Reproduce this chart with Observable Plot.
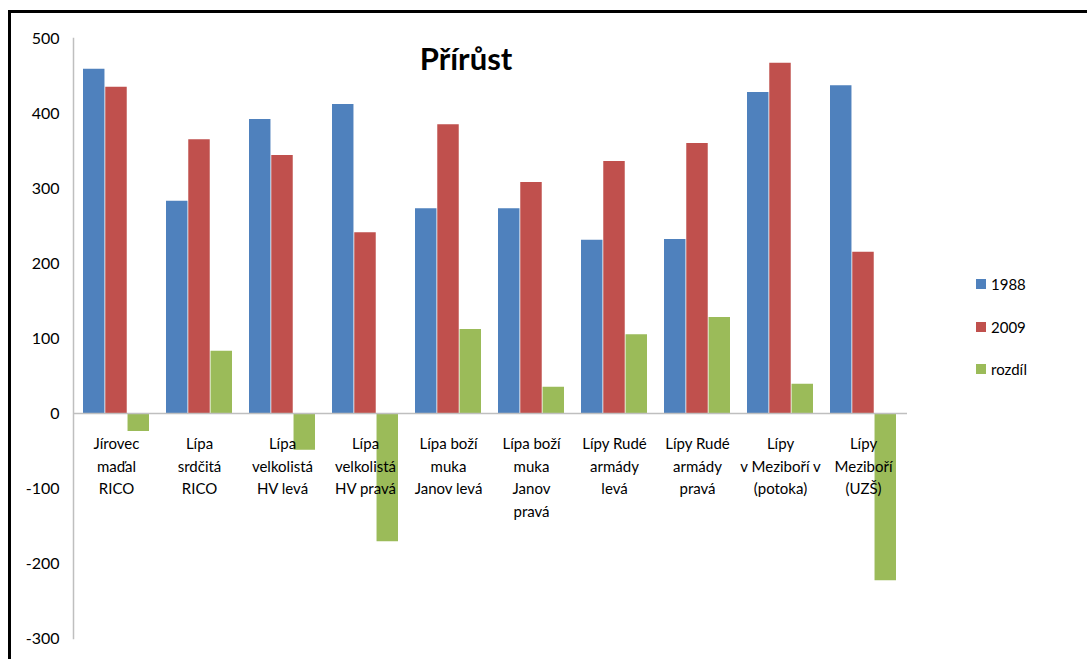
<!DOCTYPE html>
<html>
<head>
<meta charset="utf-8">
<script src="https://cdn.jsdelivr.net/npm/d3@7"></script>
<script src="https://cdn.jsdelivr.net/npm/@observablehq/plot@0.6"></script>
<style>
  body { margin: 0; background: #fff; overflow: hidden; font-family: Lato, "Open Sans", sans-serif; }
  #wrap { position: relative; width: 1087px; height: 659px; overflow: hidden; }
  #border { position: absolute; left: 8px; top: 10px; width: 1200px; height: 800px; border: 3px solid #000; box-sizing: border-box; pointer-events: none; }
  #chart { position: absolute; left: 0; top: 0; }
  #title { position: absolute; left: 316px; width: 300px; top: 40px; text-align: center; font-weight: 700; font-size: 31px; line-height: 36px; color: #000; }
  #legend { position: absolute; left: 976px; top: 274px; font-size: 15px; color: #000; }
  .item { position: relative; height: 42.5px; }
  .sw { position: absolute; left: 0; top: 5px; width: 10px; height: 10px; }
  .lab { position: absolute; left: 15px; top: 0; line-height: 20px; }
</style>
</head>
<body>
<div id="wrap">
  <div id="chart"></div>
  <div id="title">Přírůst</div>
  <div id="legend"></div>
  <div id="border"></div>
</div>
<script>
const categories = [
  "Jírovec\nmaďal\nRICO",
  "Lípa\nsrdčitá\nRICO",
  "Lípa\nvelkolistá\nHV levá",
  "Lípa\nvelkolistá\nHV pravá",
  "Lípa boží\nmuka\nJanov levá",
  "Lípa boží\nmuka\nJanov\npravá",
  "Lípy Rudé\narmády\nlevá",
  "Lípy Rudé\narmády\npravá",
  "Lípy\nv Meziboří v\n(potoka)",
  "Lípy\nMeziboří\n(UZŠ)"
];
const seriesNames = ["1988", "2009", "rozdíl"];
const values1988 = [459, 283, 392, 412, 273, 273, 231, 232, 428, 437];
const values2009 = [435, 365, 344, 241, 385, 308, 336, 360, 467, 215];
const valuesRozdil = [-24, 83, -49, -171, 112, 35, 105, 128, 39, -223];
const seriesColors = ["#4F81BD", "#C0504D", "#9BBB59"];
const yTicks = [-300, -200, -100, 0, 100, 200, 300, 400, 500];

const seriesValues = [values1988, values2009, valuesRozdil];
const table = [];
seriesNames.forEach((s, j) => categories.forEach((c, i) => table.push({cat: c, series: s, value: seriesValues[j][i]})));

const band = 66.8, third = band / 3;
const insets = [[0, 2 * third], [third, third], [2 * third, 0]];

const marks = [];
seriesNames.forEach((s, j) => {
  marks.push(Plot.barY(table.filter(d => d.series === s), {
    x: "cat", y: "value", fill: "series",
    insetLeft: insets[j][0], insetRight: insets[j][1]
  }));
});

const plot = Plot.plot({
  width: 1087,
  height: 659,
  marginTop: 38,
  marginBottom: 21,
  marginLeft: 73,
  marginRight: 180,
  style: { fontFamily: "Lato, 'Open Sans', sans-serif", background: "transparent" },
  x: { domain: categories, paddingInner: 0.2, paddingOuter: 0.1, axis: null },
  y: { domain: [-300, 500], ticks: yTicks },
  color: { domain: seriesNames, range: seriesColors },
  marks: [
    ...marks,
    Plot.ruleY([0], { stroke: "#bfbfbf", strokeWidth: 1.5 }),
    Plot.frame({ anchor: "left", stroke: "#bfbfbf", strokeWidth: 1.5 }),
    Plot.axisY({ ticks: yTicks, tickSize: 0, tickPadding: 14, fontSize: 16, label: null, tickFormat: d => String(d) }),
    Plot.text(categories, {
      x: d => d, y: d => 0, text: d => d,
      lineAnchor: "top", lineHeight: 1.5, dy: 20, fontSize: 15, fill: "#000"
    })
  ]
});
document.getElementById("chart").appendChild(plot);

const legend = document.getElementById("legend");
seriesNames.forEach((s, j) => {
  const it = document.createElement("div");
  it.className = "item";
  it.innerHTML = `<div class="sw" style="background:${seriesColors[j]}"></div><div class="lab">${s}</div>`;
  legend.appendChild(it);
});
</script>
</body>
</html>
